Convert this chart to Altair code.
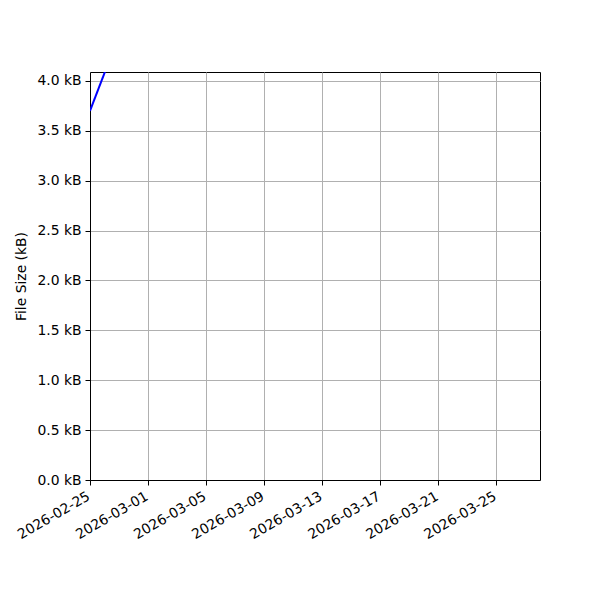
import altair as alt
import pandas as pd

dates = ["2026-02-25", "2026-02-27"]
sizes_kb = [3.70, 4.46]
tick_dates = ["2026-02-25", "2026-03-01", "2026-03-05", "2026-03-09",
              "2026-03-13", "2026-03-17", "2026-03-21", "2026-03-25"]
y_ticks = [0.0, 0.5, 1.0, 1.5, 2.0, 2.5, 3.0, 3.5, 4.0]

df = pd.DataFrame({"date": dates, "size": sizes_kb})


def dt(s):
    y, m, d = (int(p) for p in s.split("-"))
    return alt.DateTime(year=y, month=m, date=d, utc=True)


FONT = "DejaVu Sans"

chart = alt.Chart(df).mark_line(color="#0000ff", strokeWidth=2, clip=True).encode(
    x=alt.X("date:T",
            scale=alt.Scale(type="utc", domain=[dt("2026-02-25"), dt("2026-03-28")], nice=False),
            axis=alt.Axis(values=[dt(s) for s in tick_dates],
                          labelExpr="utcFormat(datum.value, '%Y-%m-%d')",
                          title=None, labelAngle=-30, labelAlign="right", labelBaseline="top",
                          grid=True, gridColor="#b0b0b0", gridWidth=1,
                          tickColor="black", tickSize=5, domainColor="black",
                          labelFont=FONT, labelFontSize=13.9, labelColor="black",
                          labelPadding=4, labelOffset=-5,
                          labelOverlap=False, labelBound=False, labelFlush=False)),
    y=alt.Y("size:Q",
            scale=alt.Scale(domain=[0, 4.09], nice=False, zero=True),
            axis=alt.Axis(values=y_ticks,
                          labelExpr="format(datum.value, '.1f') + ' kB'",
                          title="File Size (kB)", titleFont=FONT, titleFontSize=13.9,
                          titleFontWeight="normal", titleColor="black", titlePadding=8,
                          grid=True, gridColor="#b0b0b0", gridWidth=1,
                          tickColor="black", tickSize=5, domainColor="black",
                          labelFont=FONT, labelFontSize=13.9, labelColor="black",
                          labelPadding=4, labelOverlap=False, labelFlush=False)),
).properties(
    width=450, height=408,
    autosize=alt.AutoSizeParams(type="none"),
    padding={"left": 82, "top": 64, "right": 50, "bottom": 112},
).configure_view(stroke="black", strokeWidth=1)

chart.save("out.html", embed_options={"renderer": "svg", "actions": False})
